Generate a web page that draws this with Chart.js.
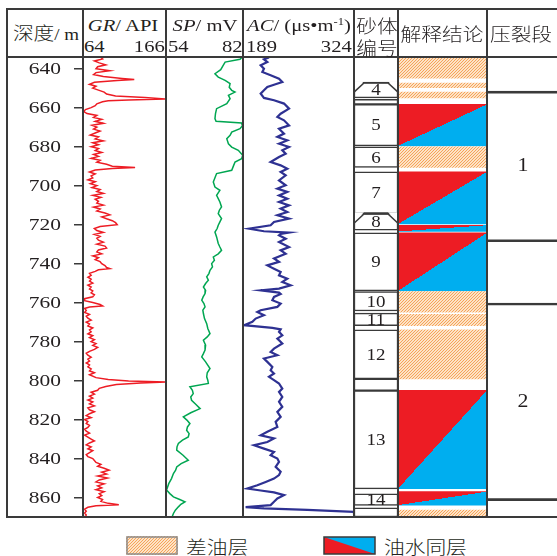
<!DOCTYPE html>
<html>
<head>
<meta charset="utf-8">
<script src="https://cdn.jsdelivr.net/npm/chart.js@4.4.1/dist/chart.umd.min.js"></script>
<style>
body { margin: 0; background: #fff; }
#fig { position: relative; width: 557px; height: 556px; overflow: hidden; background: #fff; }
.trk { position: absolute; top: 57px; }
.sw { position: absolute; top: 536px; }
.ln { position: absolute; background: #3a3a3a; }
.h { height: 2px; left: 7px; width: 550px; }
.v { width: 2px; top: 8px; height: 510px; }
.t { position: absolute; white-space: nowrap; line-height: 1; color: #231f20;
     font-family: "Liberation Serif", "Noto Sans CJK SC", serif; font-size: 16.5px; }
.c { transform: translate(-50%, -50%) scaleX(1.25); }
.l { transform-origin: 0 50%; transform: translate(0, -50%) scaleX(1.25); }
.r { transform-origin: 100% 50%; transform: translate(0, -50%) scaleX(1.25); }
.cn { font-family: "Noto Sans CJK SC", sans-serif; font-weight: 300; font-size: 18px; transform: translate(-50%, -50%) scaleX(1.15); }
.cnl { font-family: "Noto Sans CJK SC", sans-serif; font-weight: 300; font-size: 18px; transform-origin: 0 50%; transform: translate(0, -50%) scaleX(1.15); }
.lat { font-family: "Liberation Serif", serif; font-size: 16.5px; }
sup { font-size: 10px; vertical-align: 6px; }
</style>
</head>
<body>
<div id="fig">
  <canvas id="gr" class="trk" width="159" height="460" style="left:7px"></canvas>
  <canvas id="sp" class="trk" width="77" height="460" style="left:166px"></canvas>
  <canvas id="ac" class="trk" width="111" height="460" style="left:243px"></canvas>
  <canvas id="sand" class="trk" width="44" height="460" style="left:354px"></canvas>
  <canvas id="interp" class="trk" width="89" height="460" style="left:398px"></canvas>
  <canvas id="frac" class="trk" width="70" height="460" style="left:487px"></canvas>

  <div class="ln h" style="top:8px"></div>
  <div class="ln h" style="top:56px"></div>
  <div class="ln h" style="top:516px"></div>
  <div class="ln v" style="left:6px"></div>
  <div class="ln v" style="left:82px"></div>
  <div class="ln v" style="left:165px"></div>
  <div class="ln v" style="left:242px"></div>
  <div class="ln v" style="left:353px"></div>
  <div class="ln v" style="left:397px"></div>
  <div class="ln v" style="left:486px"></div>

  <span class="t cn" style="left:46px;top:33px">深度<span class="lat">/ m</span></span>
  <span class="t c" style="left:123px;top:26px"><i>GR</i>/ API</span>
  <span class="t l" style="left:84px;top:47px">64</span>
  <span class="t r" style="right:392px;top:47px">166</span>
  <span class="t c" style="left:205px;top:26px"><i>SP</i>/ mV</span>
  <span class="t l" style="left:168px;top:47px">54</span>
  <span class="t r" style="right:315px;top:47px">82</span>
  <span class="t c" style="left:299px;top:26px"><i>AC</i>/ (μs•m<sup>-1</sup>)</span>
  <span class="t l" style="left:246px;top:47px">189</span>
  <span class="t r" style="right:205px;top:47px">324</span>
  <span class="t cn" style="left:377px;top:25px">砂体</span>
  <span class="t cn" style="left:377px;top:47px">编号</span>
  <span class="t cn" style="left:442px;top:33px">解释结论</span>
  <span class="t cn" style="left:521px;top:33px">压裂段</span>

  <canvas id="lgPoor" class="sw" width="52" height="19" style="left:126px"></canvas>
  <span class="t cnl" style="left:186px;top:546px">差油层</span>
  <canvas id="lgOw" class="sw" width="53" height="19" style="left:323px"></canvas>
  <span class="t cnl" style="left:384px;top:546px">油水同层</span>
</div>
<script>
// depth range and axis ticks (m)
const depthMin = 634;
const depthMax = 870;
const depthTicks = [640, 660, 680, 700, 720, 740, 760, 780, 800, 820, 840, 860];

// GR curve (API)
const grDepth = [634,635,636,637,638,639,640,641,642,643,644,645,645.6,646,647,648,649,650,651,652,653,654,654.8,655.5,656,656.5,657,658,659,660,
  661,662,663,664,665,666,667,668,669,670,671,672,673,674,675,676,677,678,679,680,681,682,683,684,685,686,687,688,689,690,690.7,691.2,
  692,693,694,695,696,697,698,699,700,701,702,703,704,705,706,707,708,709,710,711,712,713,714,715,716,717,718,719,720,
  721,722,723,724,725,726,727,728,729,730,731,732,733,734,735,736,737,738,739,740,741,742,742.6,743.2,744,745,746,747,748,749,750,
  751,752,753,754,755,756,757,758,759,760,761,761.7,762.3,763,764,765,766,767,768,769,770,771,772,773,774,775,776,777,778,779,780,
  781,782,783,784,785,786,787,788,789,790,791,792,793,794,795,796,797,798.5,799.5,800.2,800.8,801.3,802,803,804,805,
  806,807,808,809,810,811,812,813,814,815,816,817,818,819,820,821,822,823,824,825,826,827,828,829,830,
  831,832,833,834,835,836,837,838,839,840,841,842,843,844,845,846,847,848,849,850,851,852,853,854,855,856,857,858,859,860,
  861,862,863,863.7,864.2,865,866,867,868,869,870];
const grValue = [85,88,78,84,92,82,80,97,80,77,89,112,127,106,78,72,80,76,83,90,93,104,140,165,120,95,88,81,79,74,
  67,65,69,81,77,87,79,89,75,81,77,85,79,73,83,79,89,76,83,74,83,79,87,77,83,74,85,81,93,100,128,100,
  79,72,79,74,76,70,79,73,81,75,85,81,89,76,86,79,83,81,89,77,85,81,91,97,87,93,100,104,106,
  85,78,81,89,78,85,81,83,89,81,91,93,83,81,87,76,83,79,85,87,91,93,97,83,79,72,74,70,74,72,76,
  70,74,72,76,74,78,76,66,66,76,85,88,72,66,68,66,72,68,70,74,68,72,70,76,72,74,70,76,72,78,74,
  80,76,82,78,72,68,70,74,70,72,68,72,70,74,72,78,72,80,95,120,166,135,105,92,84,82,
  74,78,72,76,70,76,72,78,70,72,78,72,68,74,66,70,68,72,70,66,68,72,66,70,74,
  78,72,68,74,70,76,72,68,70,76,78,80,86,82,90,96,87,93,82,94,84,80,90,82,87,80,90,84,87,82,
  88,86,95,108,80,70,66,68,66,68,66];

// SP curve (mV)
const spDepth = [634.2,635.2,636.6,638.3,640.5,642.6,644.3,646.0,647.7,649.5,651.1,652.0,653.7,655.4,657.9,660.5,663.0,665.6,667.0,667.9,
  669.3,670.8,672.5,674.2,675.9,678.5,680.2,681.9,684.4,686.2,687.9,690.0,692.1,693.8,696.0,698.1,700.7,702.4,705.0,706.7,
  708.4,710.9,712.6,714.4,716.9,718.6,720.3,722.0,723.8,726.3,729.7,731.5,733.2,735.0,736.6,738.3,740.0,741.7,743.4,745.1,
  746.8,748.5,750.2,752.0,753.7,755.4,757.1,758.8,760.5,762.2,763.9,765.6,768.2,770.8,773.3,775.9,777.6,779.3,781.8,784.4,
  786.2,787.9,790.4,793.8,796.0,798.1,799.8,801.5,803.2,805.0,806.7,808.4,810.1,812.3,814.4,816.5,818.6,820.3,822.1,823.8,
  825.5,827.2,828.9,830.6,832.3,834.0,835.7,838.3,840.9,842.6,844.3,846.0,847.7,850.3,852.9,856.2,858.0,859.7,861.0,862.2,
  863.5,864.8,866.5,868.2,870];
const spValue = [81.6,80.9,75.5,74.8,73.9,71.8,73.0,75.5,77.3,77.0,77.9,79.1,76.7,77.3,76.1,72.4,72.0,71.8,72.2,81.5,
  81.8,80.9,77.9,77.3,76.1,76.7,77.9,80.3,81.9,81.5,79.1,78.5,77.9,72.4,71.8,71.2,71.8,73.6,72.4,73.0,
  73.6,74.2,73.4,73.0,74.2,73.6,73.0,72.6,71.8,72.4,73.0,73.6,74.2,73.0,71.2,71.6,70.6,70.9,70.0,69.6,
  68.8,69.4,68.4,67.6,68.4,68.2,67.5,67.0,67.8,68.2,67.4,67.6,68.0,68.8,69.2,70.0,69.0,67.6,68.4,68.2,
  67.6,67.0,68.4,70.0,69.0,68.8,69.2,69.4,62.7,63.6,63.9,63.0,63.3,64.9,66.4,63.0,60.3,61.6,62.7,61.8,
  61.5,62.4,62.1,60.0,58.5,58.0,57.9,60.2,62.1,59.5,57.9,57.5,56.7,56.0,55.0,54.2,55.4,56.7,59.0,60.9,
  59.4,58.5,57.4,56.7,56.2];

// AC curve (us/m)
const acDepth = [634.2,635.2,636.6,638.3,640.0,641.7,643.4,645.1,646.8,648.2,649.4,651.1,652.8,655.0,656.2,657.9,660.5,663.1,664.8,666.5,
  669.1,670.8,673.3,675.0,676.8,678.5,680.2,681.9,683.6,685.3,687.9,689.6,691.3,693.0,694.7,697.3,699.8,701.5,703.2,705.0,
  706.7,708.4,710.1,711.8,713.5,715.2,716.9,718.6,720.3,722.1,723.4,724.1,724.8,725.5,727.2,728.9,731.5,733.2,734.9,737.4,
  739.1,740.9,742.6,744.3,746.0,747.7,749.4,751.1,752.8,753.7,754.9,755.6,757.1,758.8,760.5,762.2,763.9,764.8,766.5,768.2,
  769.9,771.6,773.0,773.7,775.0,776.8,778.5,781.0,783.6,785.3,787.0,788.7,790.4,793.0,794.7,796.4,798.1,799.8,801.5,804.1,
  805.8,808.4,810.9,813.5,816.1,818.6,821.2,823.8,826.3,828.1,829.7,831.5,833.2,834.9,836.6,838.3,840.0,841.7,844.3,846.8,
  848.5,850.3,852.0,853.7,855.4,856.4,857.4,858.8,860.5,862.2,863.9,864.9,865.6,866.3,867.4,868.7,870];
const acValue = [220.6,214.5,218.6,210.5,214.5,212.5,222.6,232.8,236.8,226.7,218.6,214.5,210.5,214.5,226.7,238.9,245.0,234.8,230.8,238.9,
  245.0,232.8,238.9,230.8,242.9,232.8,245.0,236.8,240.9,232.8,222.6,234.8,242.9,234.8,240.9,232.8,240.9,230.8,242.9,232.8,
  242.9,232.8,245.0,234.8,242.9,230.8,245.0,226.7,222.6,196.3,214.5,245.0,234.8,232.8,240.9,232.8,245.0,234.8,240.9,226.7,
  232.8,218.6,226.7,234.8,232.8,242.9,236.8,247.0,232.8,210.5,232.8,234.8,226.7,224.7,234.8,230.8,210.5,206.4,214.5,204.4,
  200.4,190.2,224.7,234.8,232.8,236.8,230.8,236.8,226.7,222.6,230.8,214.5,218.6,224.7,222.6,226.7,220.6,226.7,232.8,236.8,
  232.8,236.8,232.8,236.8,230.8,234.8,228.7,230.8,218.6,210.5,226.7,218.6,202.4,214.5,226.7,222.6,230.8,232.8,228.7,234.8,
  232.8,226.7,216.6,206.4,194.3,210.5,226.7,238.9,230.8,226.7,222.6,192.2,214.5,267.2,324,324];

// sand bodies (m)
const sandLabels = ['4', '', '5', '6', '7', '8', '9', '10', '11', '12', '', '13', '14', ''];
const sandTop    = [646.9, 655.7, 658.3, 680.1, 692.9, 714.2, 724.2, 754.4, 765.4, 774.0, 799.1, 805.2, 858.1, 865.3];
const sandBottom = [655.0, 658.3, 679.6, 690.7, 714.2, 722.8, 754.0, 764.3, 771.8, 799.1, 805.2, 855.6, 864.0, 870];
const trapezoidSands = ['4', '8'];

// interpretation: poor oil layer / oil-water layer (m)
const poorOilTop    = [634, 647.4, 652.0, 680.1, 754.4, 766.0, 774.0, 866.5];
const poorOilBottom = [644.8, 649.7, 655.0, 690.7, 764.9, 771.8, 799.2, 870];
const oilWaterTop    = [658.3, 692.9, 720.3, 724.2, 805.0, 857.0];
const oilWaterBottom = [679.6, 719.7, 723.5, 754.0, 855.5, 863.9];

// fracturing segments (m)
const fracLabels = ['1', '2'];
const fracTop    = [651.5, 760.2];
const fracBottom = [728.8, 861.6];

const RED = '#ed1c24', BLUE = '#00aeef', NAVY = '#2e3192', GREEN = '#00a651';
const INK = '#231f20', RULE = '#3a3a3a';

function makeHatch() {
  const c = document.createElement('canvas');
  c.width = 6; c.height = 6;
  const g = c.getContext('2d');
  g.fillStyle = '#fde3c6';
  g.fillRect(0, 0, 6, 6);
  g.strokeStyle = '#f5a35a';
  g.lineWidth = 1;
  g.beginPath();
  g.moveTo(-1, 4); g.lineTo(4, -1);
  g.moveTo(-1, 7); g.lineTo(7, -1);
  g.moveTo(2, 7); g.lineTo(7, 2);
  g.stroke();
  return g.createPattern(c, 'repeat');
}
const hatch = makeHatch();

const depthScale = { type: 'linear', reverse: true, min: depthMin, max: depthMax, display: false };

function baseOptions(scales, extra) {
  return Object.assign({
    responsive: false,
    animation: false,
    events: [],
    layout: { padding: 0, autoPadding: false },
    plugins: { legend: { display: false }, tooltip: { enabled: false } },
    scales: scales
  }, extra || {});
}

function stretchText(ctx, text, x, y, sx) {
  ctx.save();
  ctx.translate(x, y);
  ctx.scale(sx, 1);
  ctx.fillText(text, 0, 0);
  ctx.restore();
}

const depthLabels = {
  id: 'depthLabels',
  afterDraw(chart) {
    const s = chart.scales.y, ctx = chart.ctx;
    ctx.save();
    ctx.font = '16.5px "Liberation Serif"';
    ctx.fillStyle = INK;
    ctx.textAlign = 'right';
    ctx.textBaseline = 'middle';
    s.ticks.forEach(t => stretchText(ctx, String(t.value), s.right - 22, s.getPixelForValue(t.value) + 1, 1.3));
    ctx.restore();
  }
};

function curveChart(id, depth, value, min, max, color, width, withAxis) {
  const y = withAxis ? {
    type: 'linear', reverse: true, min: depthMin, max: depthMax, position: 'left',
    afterFit(s) { s.width = 76; },
    afterBuildTicks(s) { s.ticks = depthTicks.map(v => ({ value: v })); },
    grid: { drawOnChartArea: false, drawTicks: true, tickLength: 9, color: RULE, lineWidth: 1.5 },
    border: { display: true, color: RULE, width: 2 },
    ticks: { display: false }
  } : depthScale;
  return new Chart(document.getElementById(id), {
    type: 'line',
    data: {
      datasets: [{
        data: depth.map((d, i) => ({ x: value[i], y: d })),
        borderColor: color,
        borderWidth: width,
        pointRadius: 0,
        tension: 0
      }]
    },
    options: baseOptions({ x: { type: 'linear', min: min, max: max, display: false }, y: y }, { indexAxis: 'y' }),
    plugins: withAxis ? [depthLabels] : []
  });
}

curveChart('gr', grDepth, grValue, 64, 166, RED, 1.5, true);
curveChart('sp', spDepth, spValue, 54, 82, GREEN, 1.5, false);
curveChart('ac', acDepth, acValue, 189, 324, NAVY, 2.2, false);

const barDefaults = { grouped: false, categoryPercentage: 1, barPercentage: 1, borderSkipped: false };

// sand body column
const sandPlugin = {
  id: 'sandShapes',
  afterDatasetsDraw(chart) {
    const ctx = chart.ctx;
    const meta = chart.getDatasetMeta(0);
    ctx.save();
    meta.data.forEach((el, i) => {
      const left = el.x - el.width / 2, right = el.x + el.width / 2;
      const top = Math.min(el.y, el.base), bottom = Math.max(el.y, el.base);
      if (trapezoidSands.includes(sandLabels[i])) {
        const d = 10;
        ctx.fillStyle = '#fff';
        ctx.beginPath();
        ctx.moveTo(left - 1, top - 1); ctx.lineTo(left + d, top - 1); ctx.lineTo(left - 1, top + d); ctx.closePath();
        ctx.moveTo(right + 1, top - 1); ctx.lineTo(right - d, top - 1); ctx.lineTo(right + 1, top + d); ctx.closePath();
        ctx.fill();
        ctx.strokeStyle = RULE;
        ctx.lineWidth = 1.5;
        ctx.beginPath();
        ctx.moveTo(left, top + d); ctx.lineTo(left + d, top + 0.75); ctx.lineTo(right - d, top + 0.75); ctx.lineTo(right, top + d);
        ctx.stroke();
      }
      if (sandLabels[i]) {
        ctx.font = '16.5px "Liberation Serif"';
        ctx.fillStyle = INK;
        ctx.textAlign = 'center';
        ctx.textBaseline = 'middle';
        stretchText(ctx, sandLabels[i], el.x, (top + bottom) / 2 + 1, 1.15);
      }
    });
    ctx.restore();
  }
};

new Chart(document.getElementById('sand'), {
  type: 'bar',
  data: {
    labels: ['s'],
    datasets: [Object.assign({
      data: sandTop.map((t, i) => ({ x: 's', y: [t, sandBottom[i]] })),
      backgroundColor: '#fff',
      borderColor: RULE,
      borderWidth: 1.5
    }, barDefaults)]
  },
  options: baseOptions({ x: { type: 'category', display: false }, y: depthScale }),
  plugins: [sandPlugin]
});

// interpretation column
function oilWaterFill(c) {
  const chart = c.chart, area = chart.chartArea;
  if (!area || c.dataIndex === undefined) return RED;
  const ys = chart.scales.y;
  const T = ys.getPixelForValue(oilWaterTop[c.dataIndex]);
  const B = ys.getPixelForValue(oilWaterBottom[c.dataIndex]);
  const L = area.left, R = area.right;
  const W = R - L, H = B - T;
  const cx = (L + R) / 2, cy = (T + B) / 2;
  const len = Math.hypot(H, W), nx = H / len, ny = W / len, k = 60;
  const g = chart.ctx.createLinearGradient(cx - nx * k, cy - ny * k, cx + nx * k, cy + ny * k);
  g.addColorStop(0, RED);
  g.addColorStop(0.5, RED);
  g.addColorStop(0.5, BLUE);
  g.addColorStop(1, BLUE);
  return g;
}

new Chart(document.getElementById('interp'), {
  type: 'bar',
  data: {
    labels: ['c'],
    datasets: [
      Object.assign({
        label: '差油层',
        data: poorOilTop.map((t, i) => ({ x: 'c', y: [t, poorOilBottom[i]] })),
        backgroundColor: hatch,
        borderWidth: 0
      }, barDefaults),
      Object.assign({
        label: '油水同层',
        data: oilWaterTop.map((t, i) => ({ x: 'c', y: [t, oilWaterBottom[i]] })),
        backgroundColor: oilWaterFill,
        borderWidth: 0
      }, barDefaults)
    ]
  },
  options: baseOptions({ x: { type: 'category', display: false }, y: depthScale })
});

// fracturing segment column
const fracPlugin = {
  id: 'fracLabels',
  afterDatasetsDraw(chart) {
    const ctx = chart.ctx;
    ctx.save();
    ctx.font = '19px "Liberation Serif"';
    ctx.fillStyle = INK;
    ctx.textAlign = 'center';
    ctx.textBaseline = 'middle';
    chart.getDatasetMeta(0).data.forEach((el, i) => {
      stretchText(ctx, fracLabels[i], el.x + 1, (el.y + el.base) / 2, 1.15);
    });
    ctx.restore();
  }
};

new Chart(document.getElementById('frac'), {
  type: 'bar',
  data: {
    labels: ['p'],
    datasets: [Object.assign({
      data: fracTop.map((t, i) => ({ x: 'p', y: [t, fracBottom[i]] })),
      backgroundColor: 'rgba(0,0,0,0)',
      borderColor: RULE,
      borderWidth: { top: 2, bottom: 2, left: 0, right: 0 }
    }, barDefaults)]
  },
  options: baseOptions({ x: { type: 'category', display: false }, y: depthScale }),
  plugins: [fracPlugin]
});

// legend swatches
(function () {
  const a = document.getElementById('lgPoor').getContext('2d');
  a.fillStyle = hatch;
  a.fillRect(0, 0, 52, 19);
  a.strokeStyle = '#8c8c8c';
  a.lineWidth = 1.5;
  a.strokeRect(1, 1, 50, 17);
  const b = document.getElementById('lgOw').getContext('2d');
  b.fillStyle = BLUE;
  b.fillRect(1, 1, 51, 17);
  b.fillStyle = RED;
  b.beginPath(); b.moveTo(1, 1); b.lineTo(52, 18); b.lineTo(1, 18); b.closePath(); b.fill();
  b.strokeStyle = RULE;
  b.lineWidth = 1.5;
  b.strokeRect(1, 1, 51, 17);
})();
</script>
</body>
</html>
